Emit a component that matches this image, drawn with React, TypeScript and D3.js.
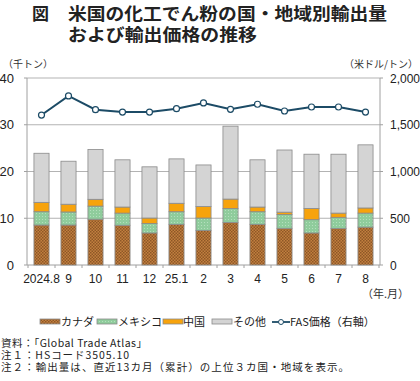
import React from "react";
import * as d3 from "d3";

const months = ["2024.8", "9", "10", "11", "12", "25.1", "2", "3", "4", "5", "6", "7", "8"];
const canada = [8.55, 8.55, 9.8, 8.5, 6.85, 8.7, 7.4, 9.1, 8.7, 7.85, 6.85, 7.8, 8.1];
const mexico = [2.85, 2.8, 2.8, 2.6, 2.05, 2.7, 2.65, 3.0, 2.7, 2.95, 2.85, 2.4, 3.0];
const china = [2.0, 1.65, 1.45, 1.3, 1.15, 1.8, 2.45, 2.0, 1.0, 0.5, 2.4, 0.9, 1.1];
const totals = [23.9, 22.2, 24.7, 22.5, 21.0, 22.7, 21.4, 29.7, 22.5, 24.6, 23.7, 23.7, 25.7];
const price = [1604, 1808, 1661, 1636, 1636, 1672, 1733, 1665, 1719, 1647, 1690, 1690, 1636];
const leftTicks = [0, 10, 20, 30, 40];
const rightTicks = [0, 500, 1000, 1500, 2000];
const legendLabels = ["カナダ", "メキシコ", "中国", "その他", "FAS価格（右軸）"];

const FONT = "'Liberation Sans', 'Noto Sans CJK JP', sans-serif";
const JP = "'Noto Sans CJK JP', sans-serif";

export default function App() {
  const W = 420, H = 381;
  const left = 27, right = 380, top = 78, bottom = 265;
  const x = d3.scaleBand<string>().domain(months).range([left + 1, right - 1]).paddingInner(0.44).paddingOuter(0.22);
  const y = d3.scaleLinear().domain([0, 40]).range([bottom, top]);
  const y2 = d3.scaleLinear().domain([0, 2000]).range([bottom, top]);
  const bw = x.bandwidth();

  const stacks = months.map((m, i) => {
    const c1 = canada[i];
    const m1 = c1 + mexico[i];
    const ch1 = m1 + china[i];
    const t = totals[i];
    return [
      { y0: 0, y1: c1, fill: "url(#canadaPat)" },
      { y0: c1, y1: m1, fill: "url(#mexPat)" },
      { y0: m1, y1: ch1, fill: "#f7a30c" },
      { y0: ch1, y1: t, fill: "#d4d4d4" },
    ];
  });

  const line = d3.line<number>().x((_, i) => (x(months[i]) as number) + bw / 2).y((d) => y2(d));

  const xBoundaries = d3.range(months.length + 1).map((i) => left + 1 + i * ((right - left - 2) / months.length));

  const legendItems = [
    { type: "rect", fill: "url(#canadaPat)", sx: 40, tx: 61 },
    { type: "rect", fill: "url(#mexPat)", sx: 97, tx: 118 },
    { type: "rect", fill: "#f7a30c", sx: 163, tx: 183 },
    { type: "rect", fill: "#d4d4d4", sx: 212, tx: 233 },
    { type: "line", fill: "#1c4b66", sx: 272, tx: 290 },
  ];
  const legendY = 322;

  return (
    <svg width={W} height={H} style={{ position: "absolute", left: 0, top: 0, background: "#fff" }}>
      <defs>
        <pattern id="canadaPat" width="3" height="3" patternUnits="userSpaceOnUse">
          <rect width="3" height="3" fill="#c2803f" />
          <rect x="0" y="0" width="1.5" height="1.5" fill="#8e5726" />
          <rect x="1.5" y="1.5" width="1.5" height="1.5" fill="#8e5726" />
        </pattern>
        <pattern id="mexPat" width="3" height="3" patternUnits="userSpaceOnUse">
          <rect width="3" height="3" fill="#8fcc9c" />
          <rect x="0" y="0" width="1" height="1" fill="#b4dfbd" />
        </pattern>
      </defs>

      {/* Title */}
      <g fontFamily={JP} fontWeight="bold" fontSize="17" fill="#222">
        <text x={32} y={20}>図</text>
        <text x={68} y={20} textLength={319} lengthAdjust="spacingAndGlyphs">米国の化工でん粉の国・地域別輸出量</text>
        <text x={68} y={41} textLength={189} lengthAdjust="spacingAndGlyphs">および輸出価格の推移</text>
      </g>

      {/* Axis unit labels */}
      <text x={3} y={68} fontFamily={JP} fontSize="10" fill="#333">（千トン）</text>
      <text x={418} y={68} fontFamily={JP} fontSize="10" fill="#333" textAnchor="end">（米ドル/トン）</text>

      {/* Gridlines */}
      {leftTicks.filter((t) => t > 0).map((t) => (
        <line key={t} x1={left} x2={right} y1={y(t)} y2={y(t)} stroke="#b3b3b3" strokeWidth={1} />
      ))}

      {/* Axes */}
      <line x1={left} x2={left} y1={top} y2={bottom} stroke="#a0a0a0" />
      <line x1={right} x2={right} y1={top} y2={bottom} stroke="#a0a0a0" />
      <line x1={left} x2={right} y1={bottom} y2={bottom} stroke="#a0a0a0" />
      {leftTicks.map((t) => (
        <g key={"l" + t}>
          <line x1={left - 3} x2={left} y1={y(t)} y2={y(t)} stroke="#a0a0a0" />
          <text x={14} y={y(t) + 4.5} textAnchor="end" fontFamily={FONT} fontSize="13" fill="#222">{t}</text>
        </g>
      ))}
      {rightTicks.map((t) => (
        <g key={"r" + t}>
          <line x1={right} x2={right + 3} y1={y2(t)} y2={y2(t)} stroke="#a0a0a0" />
          <text x={390} y={y2(t) + 4.5} fontFamily={FONT} fontSize="12" fill="#222">{d3.format(",")(t)}</text>
        </g>
      ))}
      {xBoundaries.map((bx, i) => (
        <line key={"xb" + i} x1={bx} x2={bx} y1={bottom} y2={bottom + 3} stroke="#a0a0a0" />
      ))}

      {/* Bars */}
      {stacks.map((segs, i) => (
        <g key={"b" + i}>
          {segs.map((s, j) => (
            <rect
              key={j}
              x={x(months[i]) as number}
              y={y(s.y1)}
              width={bw}
              height={Math.max(0, y(s.y0) - y(s.y1))}
              fill={s.fill}
              stroke="#8a8a8a"
              strokeWidth={0.8}
            />
          ))}
        </g>
      ))}

      {/* Price line */}
      <path d={line(price) || ""} fill="none" stroke="#1c4b66" strokeWidth={2} />
      {price.map((p, i) => (
        <circle key={"c" + i} cx={(x(months[i]) as number) + bw / 2} cy={y2(p)} r={3} fill="#fff" stroke="#1c4b66" strokeWidth={1.2} />
      ))}

      {/* X labels */}
      {months.map((m) => (
        <text key={"x" + m} x={(x(m) as number) + bw / 2} y={283} textAnchor="middle" fontFamily={FONT} fontSize="12" fill="#222">{m}</text>
      ))}
      <text x={409} y={298} textAnchor="end" fontFamily={JP} fontSize="11" fill="#333">（年.月）</text>

      {/* Legend */}
      {legendItems.map((it, i) => (
        <g key={"lg" + i}>
          {it.type === "rect" ? (
            <rect x={it.sx} y={legendY - 3} width={20} height={5} fill={it.fill} stroke="#8a8a8a" strokeWidth={0.8} />
          ) : (
            <g>
              <line x1={it.sx} x2={it.sx + 18} y1={legendY} y2={legendY} stroke={it.fill} strokeWidth={1.8} />
              <circle cx={it.sx + 9} cy={legendY} r={2.5} fill="#fff" stroke={it.fill} strokeWidth={1} />
            </g>
          )}
          <text x={it.tx} y={legendY + 4} fontFamily={JP} fontSize="11" fill="#222">{legendLabels[i]}</text>
        </g>
      ))}

      {/* Footnotes */}
      <g fontFamily={JP} fontSize="10.5" fill="#222">
        <text x={1} y={347} textLength={146} lengthAdjust="spacing">資料：「Global Trade Atlas」</text>
        <text x={1} y={359} textLength={128} lengthAdjust="spacing">注１：HSコード3505.10</text>
        <text x={1} y={371} textLength={348} lengthAdjust="spacing">注２：輸出量は、直近13カ月（累計）の上位３カ国・地域を表示。</text>
      </g>
    </svg>
  );
}
